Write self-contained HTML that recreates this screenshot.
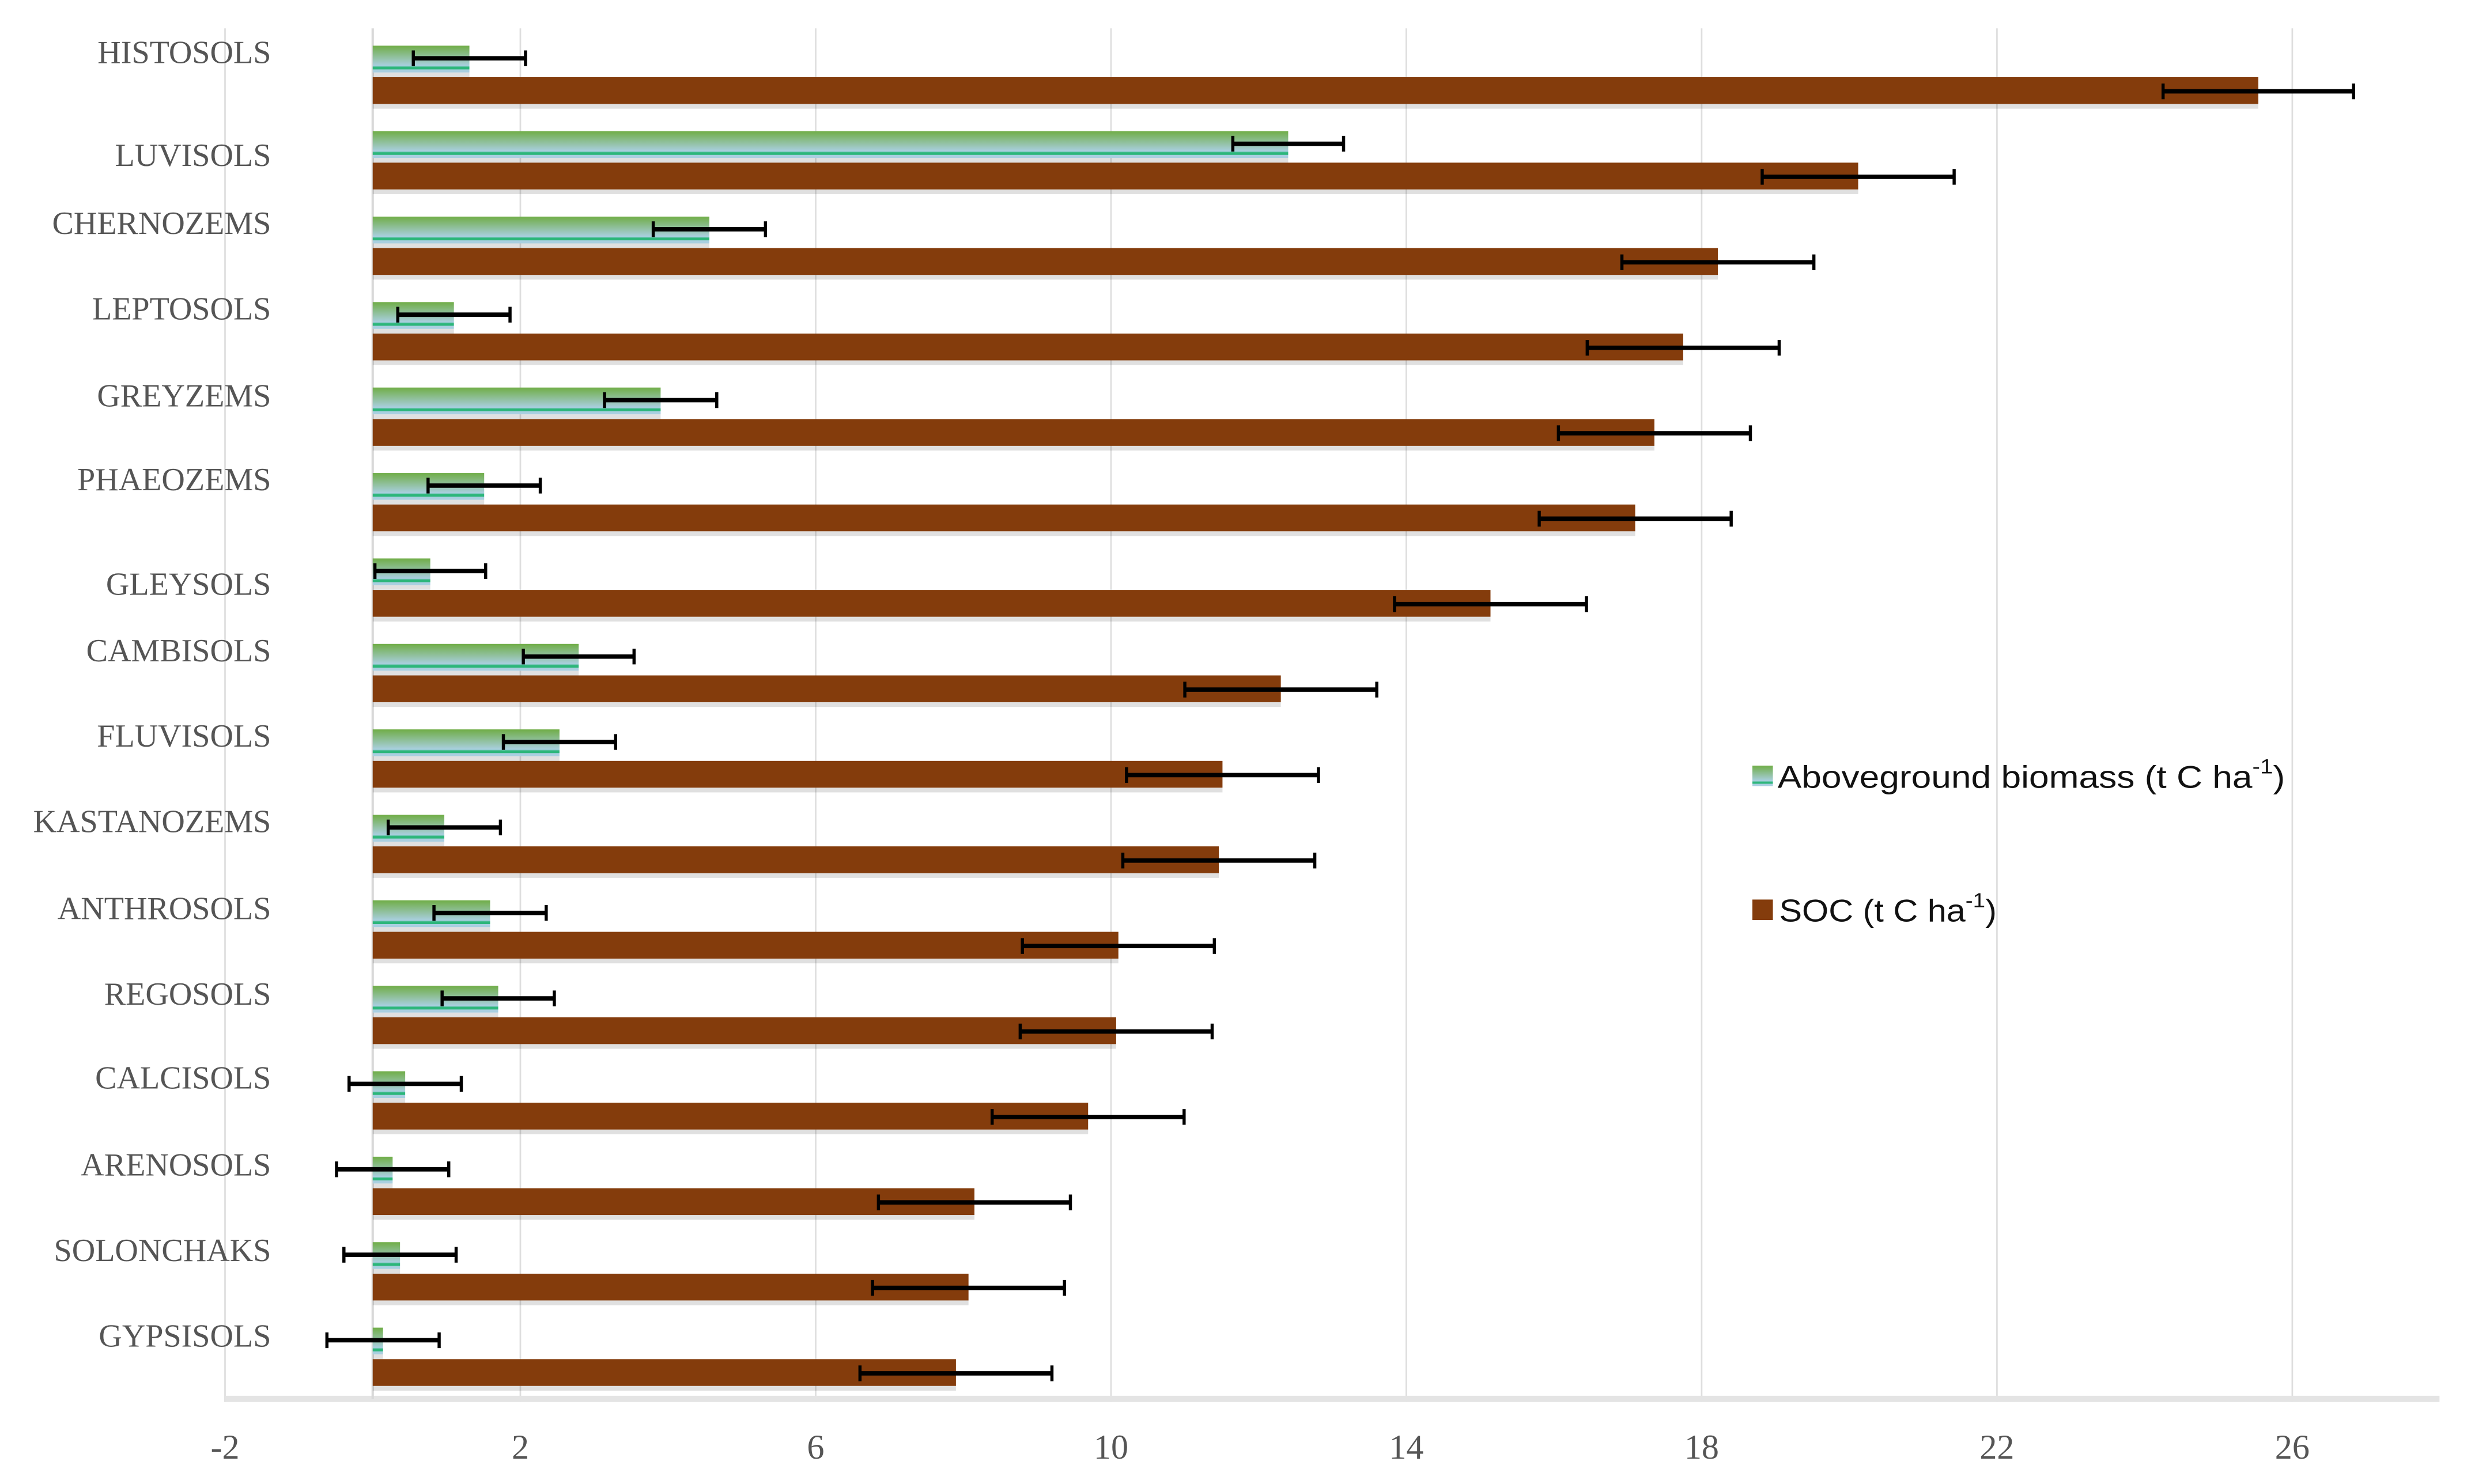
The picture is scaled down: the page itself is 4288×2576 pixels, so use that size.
<!DOCTYPE html>
<html><head><meta charset="utf-8"><style>
html,body{margin:0;padding:0;background:#fff;width:4288px;height:2576px;overflow:hidden}
svg{display:block}
</style></head><body>
<svg id="chart" width="4288" height="2576" viewBox="0 0 1568 942" preserveAspectRatio="none" xmlns="http://www.w3.org/2000/svg">
<defs>
<linearGradient id="gGreen" x1="0" y1="0" x2="0" y2="1">
<stop offset="0" stop-color="#70ad47"/><stop offset="0.75" stop-color="#a9cfe0"/><stop offset="0.8" stop-color="#2cb67a"/><stop offset="0.88" stop-color="#2cb67a"/><stop offset="0.89" stop-color="#a9cfe0"/><stop offset="1" stop-color="#a9cfe0"/>
</linearGradient>
</defs>
<g id="grid"></g><g id="bars"></g><g id="errs"></g><g id="labels"></g>
<g id="legend">
<rect x="1112" y="486" width="13" height="13" fill="url(#gGreen)"/>
<text x="1128" y="500" font-family="Liberation Sans Narrow, Liberation Sans, sans-serif" font-size="20" fill="#111" textLength="322" lengthAdjust="spacingAndGlyphs">Aboveground biomass (t C ha<tspan dy="-9" font-size="13">-1</tspan><tspan dy="9">)</tspan></text>
<rect x="1112" y="571" width="13" height="13" fill="#843c0c"/>
<text x="1129" y="585" font-family="Liberation Sans Narrow, Liberation Sans, sans-serif" font-size="20" fill="#111" textLength="138" lengthAdjust="spacingAndGlyphs">SOC (t C ha<tspan dy="-9" font-size="13">-1</tspan><tspan dy="9">)</tspan></text>
</g>
</svg>
<script>
const categories=["HISTOSOLS","LUVISOLS","CHERNOZEMS","LEPTOSOLS","GREYZEMS","PHAEOZEMS","GLEYSOLS","CAMBISOLS","FLUVISOLS","KASTANOZEMS","ANTHROSOLS","REGOSOLS","CALCISOLS","ARENOSOLS","SOLONCHAKS","GYPSISOLS"];
const biomass=[1.31,12.4,4.56,1.10,3.90,1.51,0.78,2.79,2.53,0.97,1.59,1.70,0.44,0.27,0.37,0.14];
const biomassErr=[0.76,0.75,0.76,0.76,0.76,0.76,0.75,0.75,0.76,0.76,0.76,0.76,0.76,0.76,0.76,0.76];
const soc=[25.54,20.12,18.22,17.75,17.36,17.1,15.14,12.30,11.51,11.46,10.10,10.07,9.69,8.15,8.07,7.9];
const socErr=[1.29,1.3,1.3,1.3,1.3,1.3,1.3,1.3,1.3,1.3,1.3,1.3,1.3,1.3,1.3,1.3];
const ticks=[-2,2,6,10,14,18,22,26];
const labelOffsets=[-2,9,-2,-2,-1,-2,10,-2,-2,-2,-1,-1,-2,-1,-1,-1];

const NS="http://www.w3.org/2000/svg";
const x=v=>236.5+v*46.85;
const gy=i=>29+i*54.25;
function mk(tag,attrs,parent){const e=document.createElementNS(NS,tag);for(const k in attrs)e.setAttribute(k,attrs[k]);parent.appendChild(e);return e;}
const grid=document.getElementById('grid'),bars=document.getElementById('bars'),errs=document.getElementById('errs'),labels=document.getElementById('labels');
ticks.forEach(t=>{
 const l=mk('line',{x1:x(t),x2:x(t),y1:18,y2:890,stroke:'#dedede','stroke-width':1},grid);
 
 
 const tx=mk('text',{x:x(t),y:926,'text-anchor':'middle','font-family':'Liberation Serif, serif','font-size':22,fill:'#555'},grid);
 tx.textContent=t;
 
 
});
const ax=mk('line',{x1:143,x2:1548,y1:888,y2:888,stroke:'#e4e4e4','stroke-width':4},grid);


const yax=mk('line',{x1:x(0),x2:x(0),y1:18,y2:888,stroke:'#d8d8d8','stroke-width':1.5},grid);


function err(cx,cy,e){
 const g=mk('g',{},errs);
 
 
 mk('line',{x1:x(cx-e),x2:x(cx+e),y1:cy,y2:cy,stroke:'#000','stroke-width':2.8},g);
 mk('line',{x1:x(cx-e),x2:x(cx-e),y1:cy-5,y2:cy+5,stroke:'#000','stroke-width':2},g);
 mk('line',{x1:x(cx+e),x2:x(cx+e),y1:cy-5,y2:cy+5,stroke:'#000','stroke-width':2},g);
}
categories.forEach((c,i)=>{
 const y0=gy(i);
 const sh1=mk('rect',{x:x(0),y:y0+17,width:x(biomass[i])-x(0),height:3,fill:'#000',opacity:0.12},bars);
 
 
 const g=mk('rect',{x:x(0),y:y0,width:x(biomass[i])-x(0),height:17,fill:'url(#gGreen)'},bars);
 
 
 const sh2=mk('rect',{x:x(0),y:y0+37,width:x(soc[i])-x(0),height:3,fill:'#000',opacity:0.12},bars);
 
 
 const b=mk('rect',{x:x(0),y:y0+20,width:x(soc[i])-x(0),height:17,fill:'#843c0c'},bars);
 
 
 err(biomass[i],y0+8,biomassErr[i]);
 err(soc[i],y0+29,socErr[i]);
 const t=mk('text',{x:172,y:y0+13+labelOffsets[i],'text-anchor':'end','font-family':'Liberation Serif, serif','font-size':20.5,fill:'#555'},labels);
 t.textContent=c;
 
 
});
</script>
</body></html>
